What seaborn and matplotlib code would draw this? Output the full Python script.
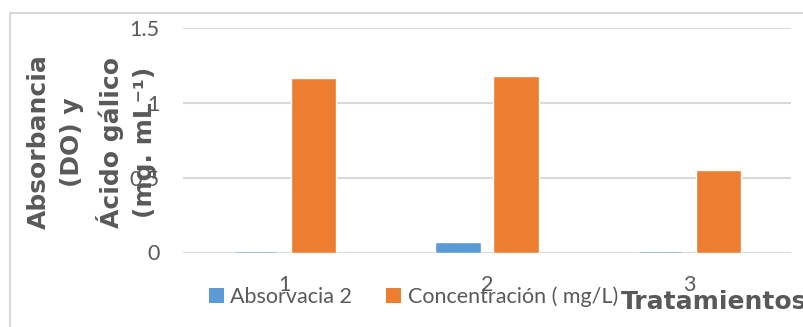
import matplotlib
matplotlib.use("Agg")
import matplotlib.pyplot as plt
import seaborn as sns
import pandas as pd
from matplotlib.patches import Rectangle

# Data
tratamientos = ["1", "2", "3"]
absorvacia = [0.007, 0.068, 0.01]
concentracion = [1.165, 1.18, 0.55]
series = ["Absorvacia 2", "Concentración ( mg/L)"]
yticks = [0, 0.5, 1, 1.5]
ytick_labels = ["0", "0.5", "1", "1.5"]
colors = ["#5B9BD5", "#ED7D31"]

df = pd.DataFrame({
    "Tratamiento": tratamientos * 2,
    "Serie": [series[0]] * 3 + [series[1]] * 3,
    "Valor": absorvacia + concentracion,
})

sns.set_style("white")
plt.rcParams["font.family"] = ["Lato", "DejaVu Sans"]

W, H = 804, 327
fig = plt.figure(figsize=(W / 100, H / 100), dpi=100)

def fx(px):
    return px / W

def fy(py):
    return 1 - py / H

ax = fig.add_axes([fx(183), fy(252.5), fx(791) - fx(183), fy(28) - fy(252.5)])

sns.barplot(data=df, x="Tratamiento", y="Valor", hue="Serie", order=tratamientos,
            hue_order=series, palette=colors, width=0.572, gap=0.22,
            saturation=1, legend=False, ax=ax, zorder=3)

ax.set_ylim(0, 1.5)
ax.set_xlim(-0.5, 2.5)
ax.set_yticks(yticks)
ax.set_yticklabels(ytick_labels)
ax.yaxis.grid(True, color="#D9D9D9", linewidth=1.5, zorder=0)
ax.set_axisbelow(True)
for s in ax.spines.values():
    s.set_visible(False)
ax.tick_params(axis="both", length=0, labelsize=15.5, labelcolor="#595959")
ax.tick_params(axis="y", pad=17)
ax.tick_params(axis="x", pad=16)
ax.set_xlabel("")
ax.set_ylabel("")

# Legend
handles = [Rectangle((0, 0), 1, 1, facecolor=c, edgecolor="none") for c in colors]
fig.legend(handles, series, loc="lower left",
           bbox_to_anchor=(fx(209), fy(307)), ncol=2, frameon=False,
           fontsize=15.5, labelcolor="#595959", handlelength=0.68,
           handleheight=0.68, handletextpad=0.3, columnspacing=1.6,
           borderpad=0, borderaxespad=0)

# Axis titles
bold = dict(family=["DejaVu Sans"], fontweight="bold", color="#595959")
fig.text(fx(92), fy(142),
         "Absorbancia\n(DO) y\nÁcido gálico\n(mg. mL⁻¹)",
         rotation=90, ha="center", va="center", ma="center",
         linespacing=1.5, zorder=5, fontsize=18, **bold)
fig.text(fx(621), fy(309), "Tratamientos", ha="left", va="baseline",
         zorder=5, fontsize=18, **bold)

# Outer frame
fig.patches.append(Rectangle((fx(10), -0.2), 2, fy(13.5) + 0.2,
                             transform=fig.transFigure, fill=False,
                             edgecolor="#D9D9D9", linewidth=1.5))

fig.savefig("out.png", dpi=100)
